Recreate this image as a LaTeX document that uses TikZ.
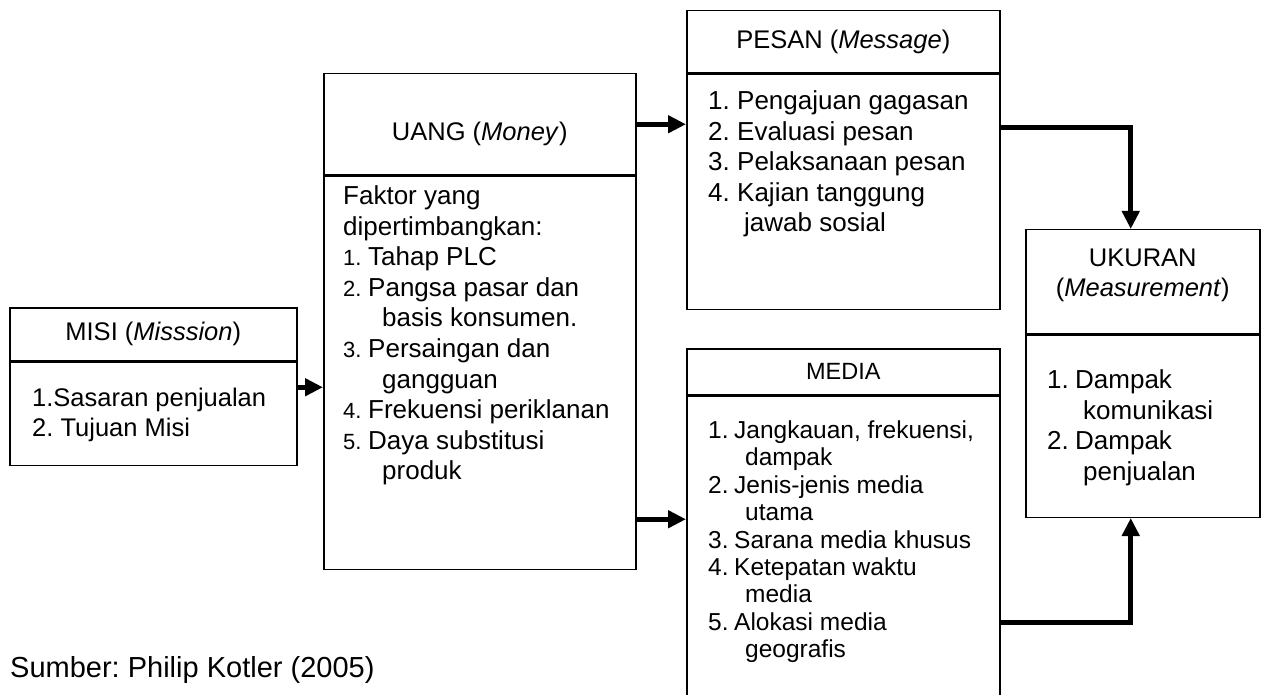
\documentclass[tikz,border=0pt]{standalone}
\usepackage{fontspec}
\setmainfont{Liberation Sans}
\usepackage{tikz}
\usetikzlibrary{arrows, arrows.meta, positioning}
\tikzstyle{boxhead} = [rectangle, draw=black, line width=1.5pt, inner sep=0pt, align=center, anchor=north west, font=\fontsize{25.5}{30}\selectfont]
\tikzstyle{boxbody} = [rectangle, draw=black, line width=1.5pt, inner sep=0pt]
\tikzstyle{boxlist} = [inner sep=0pt, align=left, font=\fontsize{26}{30.6}\selectfont]
\tikzstyle{arrow} = [line width=5pt, -{Triangle[length=18pt,width=17pt]}]
\newcommand{\itemnr}[2][28pt]{\makebox[#1][l]{#2}}
\newcommand{\smallnr}[1]{\makebox[25pt][l]{\fontsize{22}{26}\selectfont #1}}
\frenchspacing

\begin{document}
\begin{tikzpicture}[x=1pt, y=-1pt]
            \useasboundingbox (0,0) rectangle (1261,695);
            \clip (0,0) rectangle (1261,695);

            % Misi
            \node (misititle) [boxhead, minimum width=287pt, minimum height=53pt] at (9,307) {MISI (\textit{Misssion})};
            \node (misibody) [boxbody, minimum width=287pt, minimum height=103pt, below=0pt of misititle] {};
            \node (misilist) [boxlist, font=\fontsize{25.5}{30}\selectfont, below right=26pt and 23pt of misibody.north west] {1.Sasaran penjualan\\2. Tujuan Misi};

            % Uang
            \node (uangtitle) [boxhead, minimum width=312pt, minimum height=101pt, text height=38pt, text depth=5pt] at (323,73) {UANG (\textit{Money})};
            \node (uangbody) [boxbody, minimum width=312pt, minimum height=393pt, below=0pt of uangtitle] {};
            \node (uanglist) [boxlist, below right=10pt and 20pt of uangbody.north west] {Faktor yang\\
                dipertimbangkan:\\
                \smallnr{1.}Tahap PLC\\
                \smallnr{2.}Pangsa pasar dan\\
                \hspace*{39pt}basis konsumen.\\
                \smallnr{3.}Persaingan dan\\
                \hspace*{39pt}gangguan\\
                \smallnr{4.}Frekuensi periklanan\\
                \smallnr{5.}Daya substitusi\\
                \hspace*{39pt}produk};

            % Pesan
            \node (pesantitle) [boxhead, minimum width=313pt, minimum height=62pt] at (686,10) {PESAN (\textit{Message})};
            \node (pesanbody) [boxbody, minimum width=313pt, minimum height=235pt, below=0pt of pesantitle] {};
            \node (pesanlist) [boxlist, below right=17pt and 22pt of pesanbody.north west] {\itemnr[29pt]{1.}Pengajuan gagasan\\
                \itemnr[29pt]{2.}Evaluasi pesan\\
                \itemnr[29pt]{3.}Pelaksanaan pesan\\
                \itemnr[29pt]{4.}Kajian tanggung\\
                \hspace*{36pt}jawab sosial};

            % Media
            \node (mediatitle) [boxhead, minimum width=313pt, minimum height=46pt, font=\fontsize{23.5}{28}\selectfont] at (686,348) {MEDIA};
            \node (mediabody) [boxbody, minimum width=313pt, minimum height=330pt, below=0pt of mediatitle] {};
            \node (medialist) [boxlist, font=\fontsize{24.5}{27.4}\selectfont, below right=25pt and 22pt of mediabody.north west] {\itemnr[26pt]{1.}Jangkauan, frekuensi,\\
                \hspace*{37pt}dampak\\
                \itemnr[26pt]{2.}Jenis-jenis media\\
                \hspace*{37pt}utama\\
                \itemnr[26pt]{3.}Sarana media khusus\\
                \itemnr[26pt]{4.}Ketepatan waktu\\
                \hspace*{37pt}media\\
                \itemnr[26pt]{5.}Alokasi media\\
                \hspace*{37pt}geografis};

            % Ukuran
            \node (ukurantitle) [boxhead, minimum width=234pt, minimum height=104pt] at (1025,229) {UKURAN\\(\textit{Measurement})\rule[-19pt]{0pt}{19pt}};
            \node (ukuranbody) [boxbody, minimum width=234pt, minimum height=182pt, below=0pt of ukurantitle] {};
            \node (ukuranlist) [boxlist, below right=35pt and 22pt of ukuranbody.north west] {\itemnr{1.}Dampak\\
                \hspace*{36pt}komunikasi\\
                \itemnr{2.}Dampak\\
                \hspace*{36pt}penjualan};

            % Sumber
            \node (sumber) [anchor=base west, inner sep=0pt, font=\fontsize{29}{32}\selectfont] at (10,677) {Sumber: Philip Kotler (2005)};

            % Arrows
            \draw [arrow] ([yshift=26.5pt]misibody.east) -- ([yshift=26.5pt]misibody.east -| uangbody.west);
            \draw [arrow] (uangtitle.east) -- (uangtitle.east -| pesanbody.west);
            \draw [arrow] ([yshift=-146.5pt]uangbody.east) -- ([yshift=-146.5pt]uangbody.east -| mediabody.west);
            \draw [arrow] ([yshift=64.5pt]pesanbody.east) -| ([xshift=-12pt]ukurantitle.north);
            \draw [arrow] ([yshift=-61pt]mediabody.east) -| ([xshift=-12pt]ukuranbody.south);
        \end{tikzpicture}
\end{document}
